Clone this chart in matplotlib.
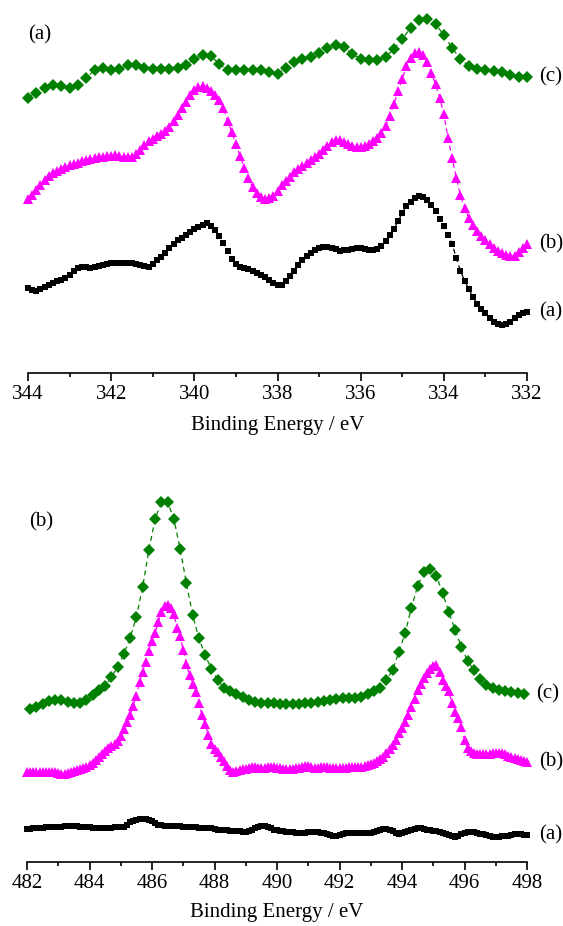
import numpy as np
import matplotlib
matplotlib.use('Agg')
import matplotlib.pyplot as plt
from matplotlib.ticker import MultipleLocator

plt.rcParams['font.family'] = ['Liberation Serif', 'DejaVu Serif']

# ---- (a) Sn 3d region, scan grid 344 -> 332 eV ----
be_a = np.linspace(344, 332, 121)      # 0.1 eV steps
be_a_c = np.linspace(344, 332, 61)     # 0.2 eV steps

# intensities (a.u.)
sn_a = [85, 83, 82, 84, 86, 88, 90, 92, 93, 95,
        98, 102, 105, 106, 106, 105, 106, 107, 108, 109,
        110, 110, 110, 110, 110, 110, 109, 108, 107, 106,
        109, 113, 116, 120, 125, 129, 133, 135, 138, 141,
        144, 146, 148, 150, 147, 143, 137, 130, 122, 114,
        109, 106, 105, 104, 102, 100, 98, 96, 93, 90,
        88, 88, 92, 97, 102, 108, 113, 117, 120, 123,
        125, 126, 126, 125, 124, 122, 123, 123, 124, 125,
        125, 124, 123, 123, 124, 127, 132, 138, 144, 152,
        160, 167, 171, 175, 177, 176, 173, 168, 162, 154,
        147, 138, 129, 115, 102, 92, 84, 76, 69, 64,
        60, 55, 51, 49, 48, 49, 51, 55, 58, 60,
        61]
sn_b = [174, 178, 183, 188, 193, 197, 200, 202, 204, 206,
        208, 209, 210, 212, 213, 214, 215, 216, 216, 217,
        217, 218, 217, 216, 216, 216, 219, 223, 228, 232,
        234, 237, 239, 242, 246, 252, 258, 265, 271, 278,
        283, 286, 287, 285, 282, 278, 273, 265, 252, 241,
        229, 217, 205, 195, 186, 180, 176, 174, 175, 177,
        182, 188, 192, 196, 201, 204, 207, 210, 213, 216,
        219, 223, 227, 231, 233, 233, 231, 229, 227, 226,
        226, 227, 229, 232, 235, 240, 247, 257, 269, 282,
        294, 307, 315, 320, 321, 318, 311, 300, 289, 275,
        259, 235, 215, 195, 178, 165, 155, 148, 142, 137,
        133, 129, 125, 122, 120, 118, 117, 117, 121, 125,
        129]
sn_c = [275, 280, 285, 288, 287, 285, 288, 295, 303, 305,
        303, 304, 308, 308, 305, 304, 304, 304, 305, 308,
        314, 318, 317, 309, 303, 303, 303, 303, 303, 301,
        299, 305, 311, 314, 316, 320, 325, 328, 326, 319,
        314, 313, 313, 316, 324, 334, 345, 353, 354, 349,
        338, 325, 314, 307, 304, 303, 302, 301, 298, 296,
        296]

# ---- (b) scan grid 482 -> 498 eV ----
be_b = np.linspace(482, 498, 161)      # 0.1 eV steps
be_b_c = np.linspace(482.1, 497.9, 80) # 0.2 eV steps

ru_a = [33, 33, 34, 34, 34, 34, 35, 35, 35, 35,
        35, 35, 36, 36, 36, 36, 36, 35, 35, 35,
        35, 34, 34, 34, 34, 34, 34, 34, 35, 35,
        35, 35, 37, 40, 41, 42, 43, 43, 43, 42,
        41, 39, 37, 37, 36, 36, 36, 36, 36, 36,
        35, 35, 35, 35, 35, 34, 34, 34, 34, 34,
        33, 32, 32, 32, 32, 31, 31, 31, 31, 30,
        30, 31, 32, 34, 35, 36, 36, 35, 34, 32,
        32, 31, 31, 30, 30, 30, 29, 29, 29, 29,
        30, 30, 30, 30, 29, 29, 28, 27, 26, 26,
        27, 28, 29, 29, 29, 29, 29, 29, 29, 29,
        29, 30, 31, 32, 33, 33, 32, 31, 29, 28,
        29, 30, 31, 32, 33, 34, 34, 33, 32, 32,
        31, 31, 30, 29, 28, 27, 26, 25, 26, 28,
        29, 30, 30, 30, 29, 28, 28, 27, 26, 25,
        25, 25, 26, 26, 26, 27, 28, 28, 28, 27,
        27]
ru_b = [90, 90, 90, 90, 90, 90, 90, 90, 90, 90,
        89, 88, 88, 89, 90, 91, 92, 93, 94, 95,
        97, 99, 102, 105, 108, 111, 114, 116, 118, 121,
        126, 133, 140, 147, 156, 166, 180, 190, 200, 211,
        221, 229, 240, 250, 256, 257, 254, 248, 234, 226,
        212, 198, 187, 178, 170, 159, 147, 138, 127, 118,
        113, 110, 105, 101, 96, 92, 90, 91, 92, 93,
        93, 94, 95, 95, 94, 94, 94, 95, 95, 95,
        94, 94, 93, 93, 93, 93, 94, 94, 95, 96,
        96, 95, 94, 94, 95, 95, 95, 94, 94, 94,
        94, 94, 94, 95, 95, 95, 95, 95, 96, 97,
        98, 99, 101, 103, 105, 109, 113, 117, 122, 129,
        134, 140, 147, 155, 163, 172, 178, 184, 189, 193,
        196, 197, 190, 182, 176, 171, 159, 150, 144, 135,
        122, 114, 111, 109, 108, 108, 108, 108, 108, 109,
        109, 109, 109, 108, 106, 105, 104, 103, 102, 101,
        100]
ru_c = [153, 155, 158, 161, 162, 162, 160, 159, 159, 162,
        167, 172, 176, 185, 195, 208, 224, 245, 275, 312,
        343, 360, 360, 343, 313, 279, 247, 224, 207, 193,
        182, 174, 171, 168, 165, 162, 160, 159, 159, 159,
        158, 158, 158, 158, 159, 159, 160, 161, 162, 163,
        164, 164, 164, 165, 168, 171, 174, 182, 192, 210,
        229, 254, 276, 290, 293, 286, 269, 250, 232, 215,
        201, 192, 183, 177, 174, 172, 171, 170, 169, 168]

curve_labels = ['(a)', '(b)', '(c)']
green = '#008000'
pink = '#ff00ff'

fig = plt.figure(figsize=(5.63, 9.26), dpi=100)
W, H = 563.0, 926.0

ax1 = fig.add_axes([28 / W, 1 - 373 / H, 499 / W, 363 / H])
ax2 = fig.add_axes([27 / W, 1 - 862 / H, 500 / W, 382 / H])


def draw(ax, x, y, color, marker, ms, label):
    ax.plot(x, y, color=color, lw=0.9, ls=(0, (4, 3)), marker=marker, ms=ms,
            mec=color, mfc=color, mew=0, clip_on=False)
    ax.annotate(label, (x[-1], y[-1]), xytext=(9, 0), textcoords='offset points',
                va='center', ha='left', fontsize=15, annotation_clip=False)


draw(ax1, be_a, sn_a, 'black', 's', 4.8, curve_labels[0])
draw(ax1, be_a, sn_b, pink, '^', 6.8, curve_labels[1])
draw(ax1, be_a_c, sn_c, green, 'D', 6.0, curve_labels[2])

draw(ax2, be_b, ru_a, 'black', 's', 4.8, curve_labels[0])
draw(ax2, be_b, ru_b, pink, '^', 6.8, curve_labels[1])
draw(ax2, be_b_c, ru_c, green, 'D', 6.0, curve_labels[2])

ax1.set_xlim(344, 332)
ax1.set_ylim(0, 363)
ax2.set_xlim(482, 498)
ax2.set_ylim(0, 382)

for ax, pad in ((ax1, 9), (ax2, 7)):
    for s in ('top', 'left', 'right'):
        ax.spines[s].set_visible(False)
    ax.spines['bottom'].set_linewidth(1.2)
    ax.set_yticks([])
    ax.xaxis.set_major_locator(MultipleLocator(2))
    ax.xaxis.set_minor_locator(MultipleLocator(1))
    ax.tick_params(axis='x', which='major', direction='out', length=5.5, width=1.2,
                   labelsize=15, pad=3)
    ax.tick_params(axis='x', which='minor', direction='out', length=3, width=1.2)
    ax.set_xlabel('Binding Energy / eV', fontsize=15, labelpad=pad)

fig.text(28 / W, 1 - 35 / H, '(a)', fontsize=15, va='center', ha='left')
fig.text(29 / W, 1 - 522 / H, '(b)', fontsize=15, va='center', ha='left')

fig.savefig('out.png', dpi=100)
